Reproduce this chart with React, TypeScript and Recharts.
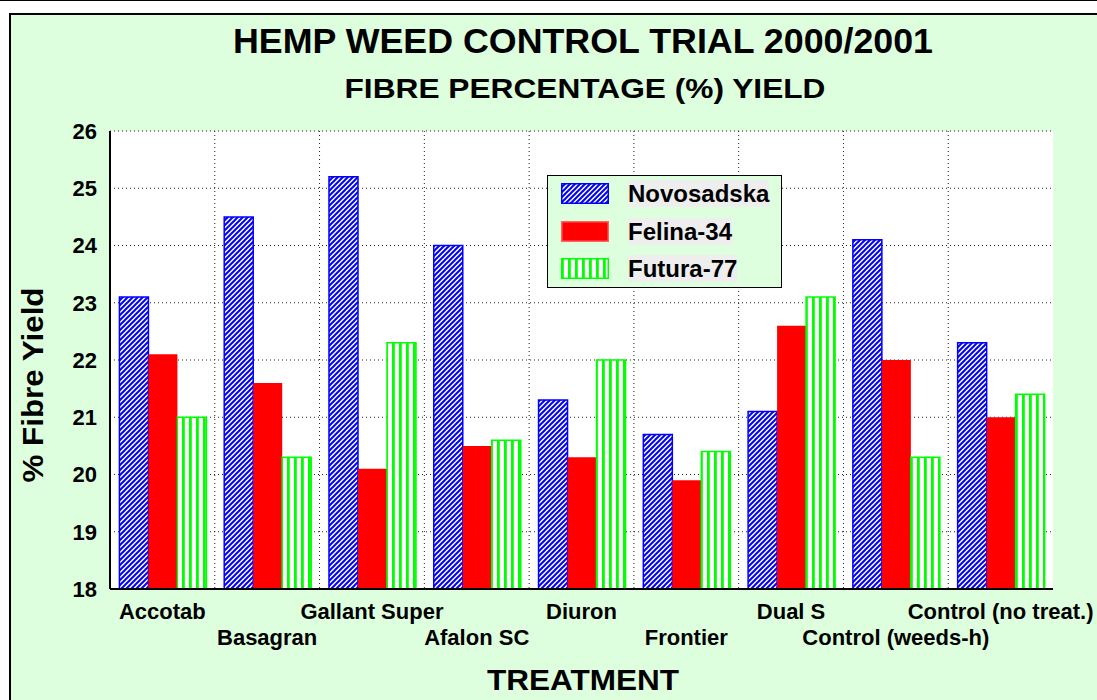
import { BarChart, Bar, XAxis, YAxis, CartesianGrid, Legend } from "recharts";

const categories = [
  "Accotab",
  "Basagran",
  "Gallant Super",
  "Afalon SC",
  "Diuron",
  "Frontier",
  "Dual S",
  "Control (weeds-h)",
  "Control (no treat.)",
];
const novosadska = [23.1, 24.5, 25.2, 24.0, 21.3, 20.7, 21.1, 24.1, 22.3];
const felina34 = [22.1, 21.6, 20.1, 20.5, 20.3, 19.9, 22.6, 22.0, 21.0];
const futura77 = [21.0, 20.3, 22.3, 20.6, 22.0, 20.4, 23.1, 20.3, 21.4];
const yTicks = [18, 19, 20, 21, 22, 23, 24, 25, 26];

const series = [
  { key: "novosadska", name: "Novosadska", fill: "url(#hatchBlue)", stroke: "#0000ff" },
  { key: "felina34", name: "Felina-34", fill: "#ff0000", stroke: "none" },
  { key: "futura77", name: "Futura-77", fill: "url(#stripeGreen)", stroke: "#00ff00" },
];

const data = categories.map((name, i) => ({
  name,
  novosadska: novosadska[i],
  felina34: felina34[i],
  futura77: futura77[i],
}));

const FONT = "'Liberation Sans', Arial, sans-serif";

// alternate tick labels between two rows
function TreatmentTick(props: any) {
  const { x, y, payload, index } = props;
  return (
    <text
      x={x}
      y={y + (index % 2 === 0 ? 30 : 56)}
      textAnchor="middle"
      fontFamily={FONT}
      fontWeight="bold"
      fontSize={22}
      fill="#000"
    >
      {payload.value}
    </text>
  );
}

function LegendBox() {
  return (
    <div
      style={{
        position: "relative",
        width: 235,
        height: 113,
        boxSizing: "border-box",
        border: "1px solid #000",
        background: "#ddffdd",
        fontFamily: FONT,
      }}
    >
      {series.map((s, i) => (
        <div key={s.key}>
          <svg
            width={48}
            height={21}
            style={{ position: "absolute", left: 13, top: 7 + i * 37.5 }}
          >
            <rect
              x={0.75}
              y={0.75}
              width={46.5}
              height={19.5}
              fill={s.fill}
              stroke={s.stroke === "none" ? "#ff6060" : s.stroke}
              strokeWidth={1.5}
            />
          </svg>
          <span
            style={{
              position: "absolute",
              left: 80,
              top: 4 + i * 37.5,
              fontSize: 24,
              fontWeight: "bold",
              lineHeight: "27px",
              background: "#eeeeee",
              color: "#000",
              whiteSpace: "nowrap",
            }}
          >
            {s.name}
          </span>
        </div>
      ))}
    </div>
  );
}

export default function App() {
  return (
    <div
      style={{
        position: "absolute",
        left: 0,
        top: 0,
        width: 1097,
        height: 700,
        overflow: "hidden",
        background: "#fff",
      }}
    >
      <svg width={0} height={0} style={{ position: "absolute" }}>
        <defs>
          <pattern id="hatchBlue" patternUnits="userSpaceOnUse" width={5} height={5}>
            <rect width={5} height={5} fill="#fff" />
            <path d="M-1,1 L1,-1 M0,5 L5,0 M4,6 L6,4" stroke="#0000ff" strokeWidth={2} />
          </pattern>
          <pattern id="stripeGreen" patternUnits="userSpaceOnUse" width={7} height={7}>
            <rect width={7} height={7} fill="#fff" />
            <rect x={0} width={2.8} height={7} fill="#00ff00" />
          </pattern>
        </defs>
      </svg>
      <div style={{ position: "absolute", left: 0, top: 0, width: 1097, height: 1, background: "#000" }} />
      <div
        style={{
          position: "absolute",
          left: 9,
          top: 13,
          width: 1200,
          height: 800,
          border: "2px solid #000",
          background: "#ddffdd",
        }}
      />
      <div style={{ position: "absolute", left: 0, top: 0 }}>
        <BarChart
          width={1097}
          height={700}
          data={data}
          margin={{ top: 131, right: 44, left: 50, bottom: 41 }}
          barCategoryGap="9%"
          barGap={0}
        >
          <CartesianGrid
            fill="#fff"
            stroke="#222"
            strokeDasharray="1 3"
            verticalCoordinatesGenerator={({ offset }: any) =>
              categories.slice(1).map((_, i) => offset.left + ((i + 1) * offset.width) / categories.length)
            }
          />
          <XAxis
            dataKey="name"
            height={70}
            interval={0}
            tickSize={0}
            tickMargin={0}
            tickLine={false}
            axisLine={{ stroke: "#000", strokeWidth: 2 }}
            tick={<TreatmentTick />}
          />
          <XAxis
            xAxisId="top"
            dataKey="name"
            orientation="top"
            height={0}
            tick={false}
            tickLine={false}
            axisLine={{ stroke: "#000", strokeWidth: 1.5 }}
          />
          <YAxis
            domain={[18, 26]}
            ticks={yTicks}
            width={60}
            tickSize={0}
            tickMargin={13}
            tickLine={false}
            axisLine={{ stroke: "#000", strokeWidth: 2 }}
            tick={{ fontFamily: FONT, fontWeight: "bold", fontSize: 22, fill: "#000" }}
          />
          <YAxis
            yAxisId="right"
            orientation="right"
            domain={[18, 26]}
            width={0}
            tick={false}
            tickLine={false}
            axisLine={{ stroke: "#000", strokeWidth: 1.5 }}
          />
          <Legend
            layout="vertical"
            align="center"
            verticalAlign="middle"
            wrapperStyle={{ left: 547, top: 175, width: 235, height: 113 }}
            content={() => <LegendBox />}
          />
          {series.map((s) => (
            <Bar
              key={s.key}
              dataKey={s.key}
              name={s.name}
              fill={s.fill}
              stroke={s.stroke}
              strokeWidth={s.stroke === "none" ? 0 : 1.5}
              isAnimationActive={false}
            />
          ))}
        </BarChart>
      </div>
      <svg
        width={1097}
        height={700}
        style={{ position: "absolute", left: 0, top: 0, pointerEvents: "none" }}
        fontFamily={FONT}
        fontWeight="bold"
        fill="#000"
      >
        <text x={583} y={53} textAnchor="middle" fontSize={35} textLength={700} lengthAdjust="spacingAndGlyphs">
          HEMP WEED CONTROL TRIAL 2000/2001
        </text>
        <text x={585} y={98} textAnchor="middle" fontSize={28} textLength={481} lengthAdjust="spacingAndGlyphs">
          FIBRE PERCENTAGE (%) YIELD
        </text>
        <text
          x={583}
          y={690}
          textAnchor="middle"
          fontSize={29}
          textLength={192}
          lengthAdjust="spacingAndGlyphs"
        >
          TREATMENT
        </text>
        <text
          transform="translate(43 385) rotate(-90)"
          textAnchor="middle"
          fontSize={29}
          textLength={195}
          lengthAdjust="spacingAndGlyphs"
        >
          % Fibre Yield
        </text>
      </svg>
    </div>
  );
}
